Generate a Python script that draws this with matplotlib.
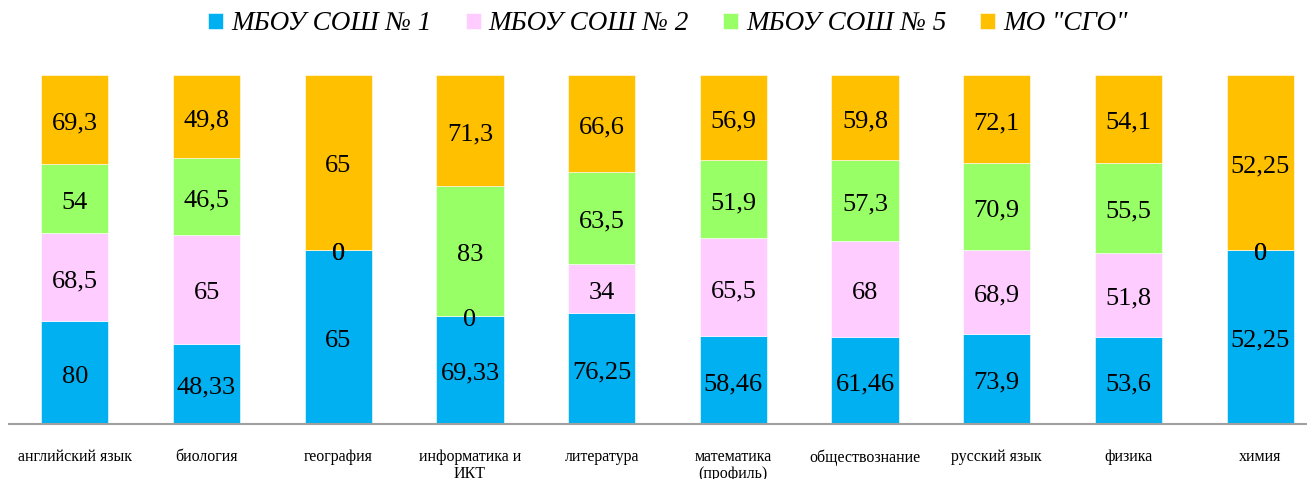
import numpy as np
import matplotlib.pyplot as plt

plt.rcParams['font.family'] = ['Liberation Serif', 'DejaVu Serif']

subjects = ['английский язык', 'биология', 'география', 'информатика и\nИКТ',
            'литература', 'математика\n(профиль)', 'обществознание',
            'русский язык', 'физика', 'химия']
series_names = ['МБОУ СОШ № 1', 'МБОУ СОШ № 2', 'МБОУ СОШ № 5', 'МО "СГО"']
school1 = [80, 48.33, 65, 69.33, 76.25, 58.46, 61.46, 73.9, 53.6, 52.25]
school2 = [68.5, 65, 0, 0, 34, 65.5, 68, 68.9, 51.8, 0]
school5 = [54, 46.5, 0, 83, 63.5, 51.9, 57.3, 70.9, 55.5, 0]
mo_sgo = [69.3, 49.8, 65, 71.3, 66.6, 56.9, 59.8, 72.1, 54.1, 52.25]
colors = ['#00B0F0', '#FFCCFF', '#99FF66', '#FFC000']

data = np.array([school1, school2, school5, mo_sgo], dtype=float)
shares = data / data.sum(axis=0) * 100

fig = plt.figure(figsize=(13.07, 4.79), dpi=100)
ax = fig.add_axes([9 / 1307, 55 / 479, 1317 / 1307, 349 / 479])

x = np.arange(len(subjects))
bottom = np.zeros(len(subjects))
for vals, pct, name, col in zip(data, shares, series_names, colors):
    ax.bar(x, pct, bottom=bottom, width=0.51, color=col, label=name,
           edgecolor='white', linewidth=0.4)
    # value labels sit slightly below the segment centre
    for xi, b, p, v in zip(x, bottom, pct, vals):
        ax.annotate(f'{v:g}'.replace('.', ','), (xi, b + p / 2),
                    xytext=(0, -4), textcoords='offset pixels',
                    ha='center', va='center', fontsize=19)
    bottom += pct

ax.set_xlim(-0.5, 9.5)
ax.set_ylim(0, 100)
ax.set_yticks([])
ax.set_xticks(x)
ax.set_xticklabels(subjects, fontsize=11.5, linespacing=1.05, va='top')
ax.tick_params(axis='x', length=0, pad=18)
for side in ['top', 'right', 'left']:
    ax.spines[side].set_visible(False)
ax.spines['bottom'].set_color('#A0A0A0')
ax.spines['bottom'].set_linewidth(1.5)

leg = fig.legend(loc='center', bbox_to_anchor=(668 / 1307, 1 - 24 / 479),
                 ncol=4, frameon=False, handlelength=0.55, handleheight=0.55,
                 handletextpad=0.3, columnspacing=1.25,
                 prop={'family': 'Liberation Serif', 'style': 'italic', 'size': 19.5})

fig.savefig('out.png', dpi=100)
